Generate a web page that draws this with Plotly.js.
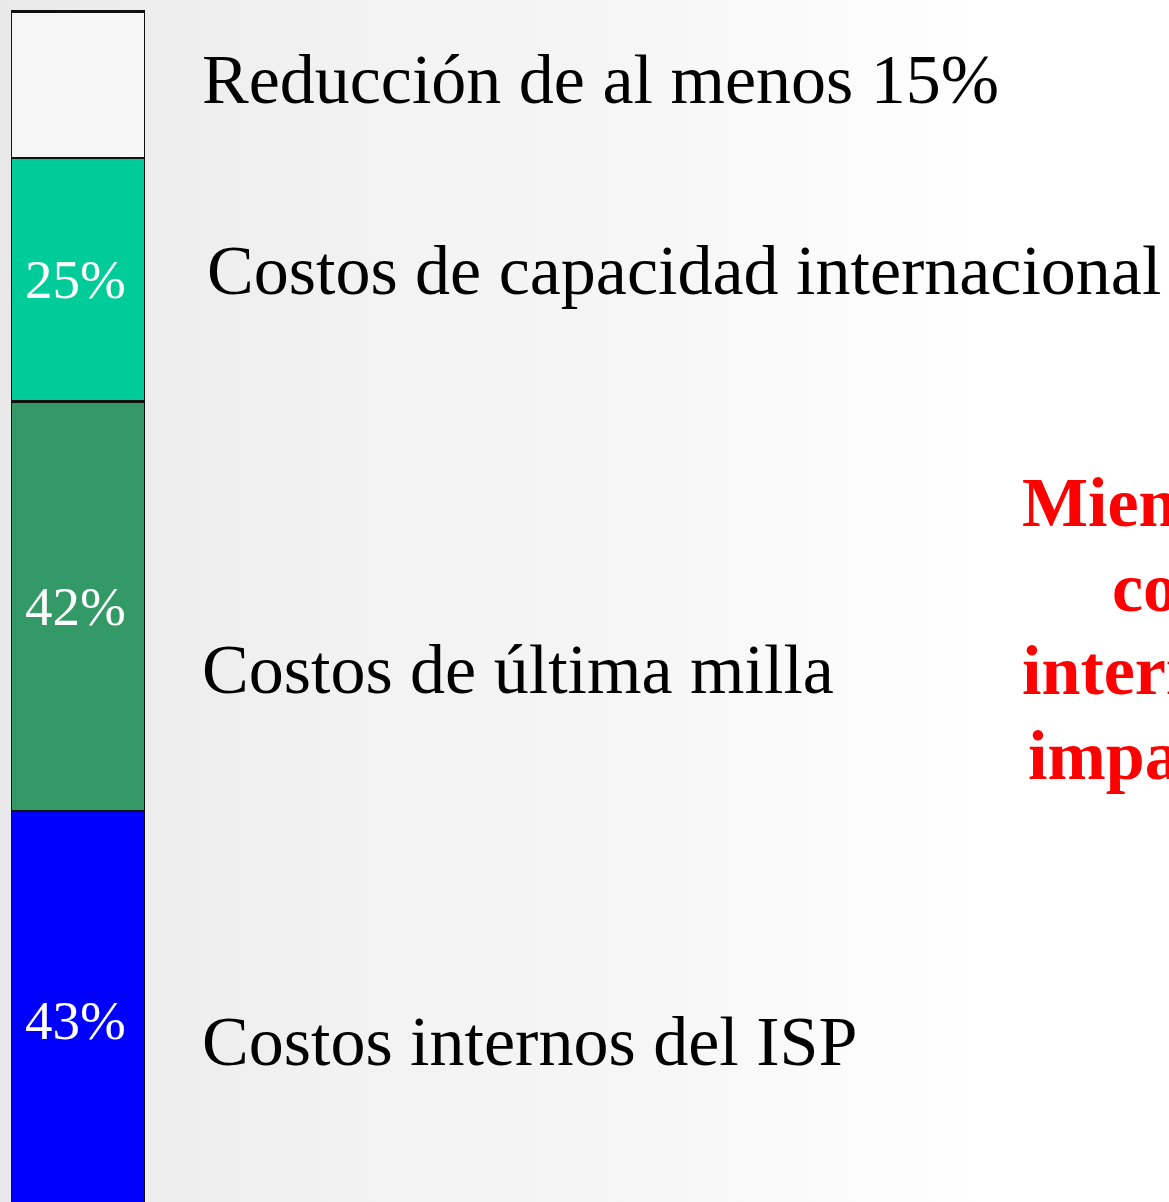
<!DOCTYPE html>
<html>
<head>
<meta charset="utf-8">
<script src="https://cdn.plot.ly/plotly-3.0.1.min.js"></script>
<style>
html,body{margin:0;padding:0;overflow:hidden;width:1169px;height:1202px;}
body{background:linear-gradient(to right,#e9e9e9 0px,#ededed 150px,#f2f2f2 350px,#f5f5f5 600px,#fafafa 800px,#ffffff 1000px);}
#chart{width:1169px;height:1202px;}
</style>
</head>
<body>
<div id="chart"></div>
<script>
// Segments from bottom to top
const segments = ["Costos internos del ISP", "Costos de última milla", "Costos de capacidad internacional", "Reducción de al menos 15%"];
const values = [43, 42, 25, 15];
const valueLabels = ["43%", "42%", "25%", ""];
const colors = ["#0000FF", "#339966", "#00CC99", "rgba(255,255,255,0.55)"];
const category = ["Costo"];

const sideLabels = [
  {text: "Reducción de al menos 15%", x: 200, y: 80},
  {text: "Costos de capacidad internacional", x: 205, y: 270},
  {text: "Costos de última milla", x: 200, y: 670},
  {text: "Costos internos del ISP", x: 200, y: 1041}
];
const redLines = ["Mientras los", "costos", "internacionales", "impactan"];
const redX = [1020, 1110, 1020, 1026];
const redY = [502, 587, 671, 755];

const W = 1169, H = 1202;

const traces = segments.map((name, i) => ({
  type: "bar",
  x: category,
  y: [values[i]],
  name: name,
  marker: {color: colors[i], line: {color: "#111111", width: 2.5}},
  hoverinfo: "name+y",
  showlegend: false
}));

const annotations = [];
let base = 0;
values.forEach((v, i) => {
  if (valueLabels[i]) {
    annotations.push({
      xref: "x", yref: "y", x: category[0], y: base + v / 2,
      text: valueLabels[i], showarrow: false, xshift: -3,
      font: {family: "Liberation Serif, Times New Roman, serif", size: 55, color: "#ffffff"},
      xanchor: "center", yanchor: "middle"
    });
  }
  base += v;
});
sideLabels.forEach(l => annotations.push({
  xref: "paper", yref: "paper", x: l.x / W, y: 1 - l.y / H,
  text: l.text, showarrow: false,
  font: {family: "Liberation Serif, Times New Roman, serif", size: 70, color: "#000000"},
  xanchor: "left", yanchor: "middle"
}));
redLines.forEach((t, i) => annotations.push({
  xref: "paper", yref: "paper", x: redX[i] / W, y: 1 - redY[i] / H,
  text: "<b>" + t + "</b>", showarrow: false,
  font: {family: "Liberation Serif, Times New Roman, serif", size: 70, color: "#FF0000"},
  xanchor: "left", yanchor: "middle"
}));

const layout = {
  width: W, height: H,
  margin: {l: 0, r: 0, t: 0, b: 0, pad: 0},
  paper_bgcolor: "rgba(0,0,0,0)",
  plot_bgcolor: "rgba(0,0,0,0)",
  barmode: "stack",
  bargap: 0,
  xaxis: {domain: [11 / W, 145 / W], range: [-0.5, 0.5], visible: false, fixedrange: true},
  yaxis: {range: [2.9, 126.2], visible: false, fixedrange: true},
  annotations: annotations,
  showlegend: false
};

Plotly.newPlot("chart", traces, layout, {displayModeBar: false, staticPlot: true});
</script>
</body>
</html>
